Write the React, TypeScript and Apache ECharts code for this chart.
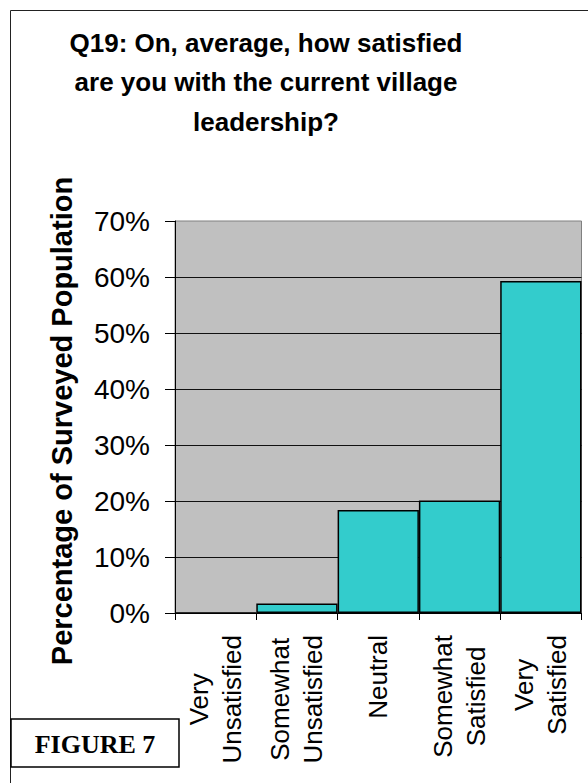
import React, { useEffect, useRef } from "react";
import * as echarts from "echarts";

const categories = [
  "Very\nUnsatisfied",
  "Somewhat\nUnsatisfied",
  "Neutral",
  "Somewhat\nSatisfied",
  "Very\nSatisfied",
];
const percentages = [0, 1.7, 18.4, 20.1, 59.3];
const titleText = "Q19: On, average, how satisfied\nare you with the current village\nleadership?";
const yAxisName = "Percentage of Surveyed Population";
const figureLabel = "FIGURE 7";

const SANS = "'Liberation Sans', Arial, Helvetica, sans-serif";
const SERIF = "'Liberation Serif', 'Times New Roman', serif";

export default function App() {
  const ref = useRef<HTMLDivElement>(null);
  useEffect(() => {
    document.body.style.margin = "0";
    const chart = echarts.init(ref.current!, undefined, { renderer: "svg" });
    chart.setOption({
      animation: false,
      backgroundColor: "#ffffff",
      grid: {
        left: 175,
        right: 6.5,
        top: 221,
        bottom: 170,
        show: true,
        backgroundColor: "#C0C0C0",
        borderColor: "#808080",
        borderWidth: 1,
        containLabel: false,
      },
      xAxis: {
        type: "category",
        data: categories,
        boundaryGap: true,
        axisLine: { show: true, lineStyle: { color: "#000", width: 1 } },
        axisTick: { show: true, length: 7, lineStyle: { color: "#000", width: 1 } },
        axisLabel: {
          interval: 0,
          rotate: 90,
          margin: 22,
          formatter: (v: string) => v.split("\n").map((s) => `{c|${s}}`).join("\n"),
          rich: {
            c: {
              fontSize: 26,
              fontFamily: SANS,
              color: "#000",
              align: "center",
              lineHeight: 33,
            },
          },
        },
        splitLine: { show: false },
      },
      yAxis: {
        type: "value",
        min: 0,
        max: 70,
        interval: 10,
        axisLine: { show: true, lineStyle: { color: "#000", width: 1 } },
        axisTick: { show: true, length: 10, lineStyle: { color: "#000", width: 1 } },
        axisLabel: {
          formatter: "{value}%",
          fontSize: 28,
          fontFamily: SANS,
          color: "#000",
          margin: 25,
        },
        splitLine: {
          show: true,
          showMaxLine: false,
          showMinLine: false,
          lineStyle: { color: "#111", width: 1 },
        },
      },
      series: [
        {
          type: "bar",
          data: percentages,
          barCategoryGap: "0%",
          itemStyle: { color: "#33CCCC", borderColor: "#000", borderWidth: 1.5 },
        },
      ],
      graphic: [
        {
          type: "rect",
          shape: { x: 10.5, y: 10.5, width: 800, height: 900 },
          style: { fill: "none", stroke: "#222", lineWidth: 1 },
          silent: true,
          z: 0,
        },
        {
          type: "text",
          x: 266,
          y: 23,
          style: {
            text: titleText,
            align: "center",
            verticalAlign: "top",
            textAlign: "center",
            textVerticalAlign: "top",
            lineHeight: 39.5,
            font: `bold 26px ${SANS}`,
            fill: "#000",
          },
        },
        {
          type: "text",
          x: 62,
          y: 421,
          rotation: Math.PI / 2,
          style: {
            text: yAxisName,
            align: "center",
            verticalAlign: "middle",
            textAlign: "center",
            textVerticalAlign: "middle",
            font: `bold 29px ${SANS}`,
            fill: "#000",
          },
        },
        {
          type: "rect",
          shape: { x: 11, y: 719, width: 168, height: 48 },
          style: { fill: "#fff", stroke: "#000", lineWidth: 1.5 },
          z: 10,
        },
        {
          type: "text",
          x: 95,
          y: 744,
          z: 11,
          style: {
            text: figureLabel,
            align: "center",
            verticalAlign: "middle",
            textAlign: "center",
            textVerticalAlign: "middle",
            font: `bold 26px ${SERIF}`,
            fill: "#000",
          },
        },
      ],
    });
    return () => chart.dispose();
  }, []);
  return <div ref={ref} style={{ width: 588, height: 783 }} />;
}
